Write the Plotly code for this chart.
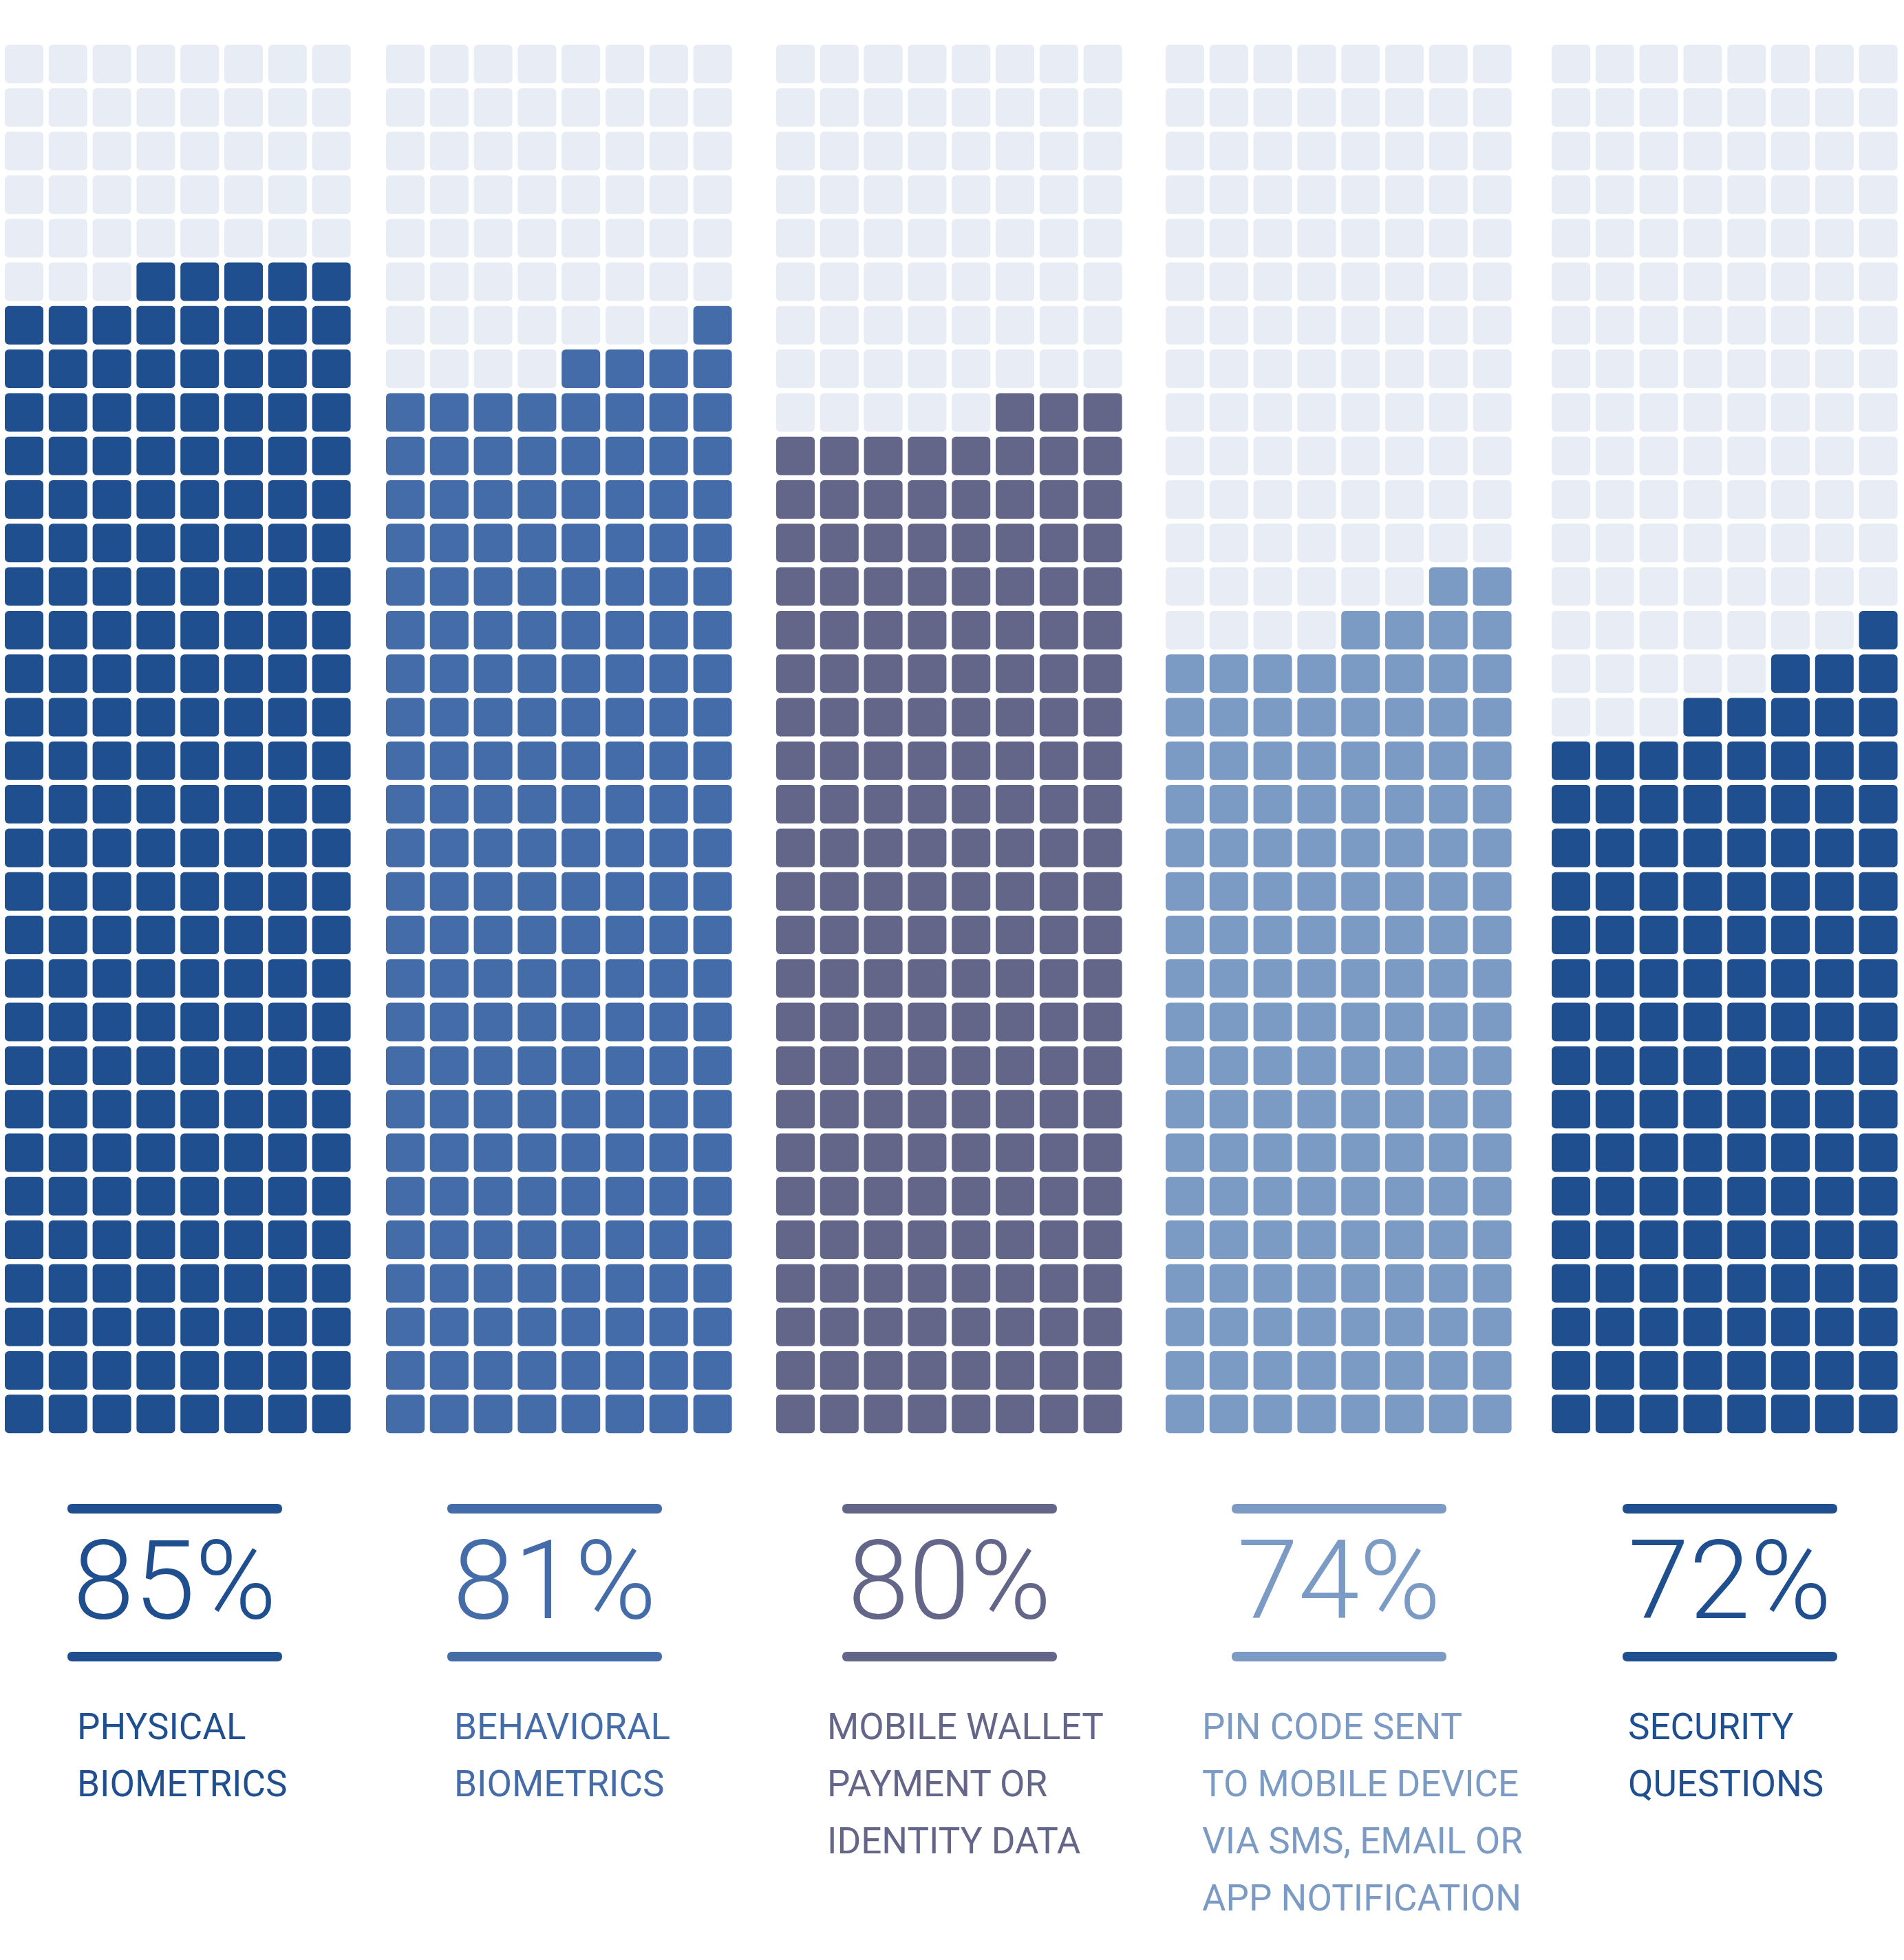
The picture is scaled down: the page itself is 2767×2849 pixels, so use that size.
import plotly.graph_objects as go

# ---------------- data ----------------
categories = [
    "PHYSICAL\nBIOMETRICS",
    "BEHAVIORAL\nBIOMETRICS",
    "MOBILE WALLET\nPAYMENT OR\nIDENTITY DATA",
    "PIN CODE SENT\nTO MOBILE DEVICE\nVIA SMS, EMAIL OR\nAPP NOTIFICATION",
    "SECURITY\nQUESTIONS",
]
percent_values = [85, 81, 80, 74, 72]
percent_labels = ["85%", "81%", "80%", "74%", "72%"]
# filled squares in each of the 8 columns of every waffle (left -> right), out of 32 rows
heights_physical = [26, 26, 26, 27, 27, 27, 27, 27]
heights_behavioral = [24, 24, 24, 24, 25, 25, 25, 26]
heights_wallet = [23, 23, 23, 23, 23, 24, 24, 24]
heights_pin = [18, 18, 18, 18, 19, 19, 20, 20]
heights_security = [16, 16, 16, 17, 17, 18, 18, 19]
column_heights = [heights_physical, heights_behavioral, heights_wallet, heights_pin, heights_security]
GRID_COLS = 8
GRID_ROWS = 32

# ---------------- style / layout ----------------
colors = ["#1f4f8f", "#436ca9", "#646689", "#7b9bc4", "#1f4f8f"]
EMPTY = "#e8ecf4"
W, H = 2767, 2849
group_x0 = [7, 561, 1128, 1694, 2255]
CELL = 56
PITCH_X = 63.8
PITCH_Y = 63.3
TOP = 65
rule_x0 = [98, 650, 1224, 1790, 2358]
RULE_LEN = 312
RULE_Y = [2193, 2408]
RULE_T = 14
PCT_Y = 2297
label_x = [110, 658, 1200, 1745, 2364]
LABEL_Y0 = 2510
LABEL_DY = 83

fig = go.Figure()

for g in range(len(categories)):
    filled = {"x": [], "y": [], "base": []}
    empty = {"x": [], "y": [], "base": []}
    for c in range(GRID_COLS):
        cx = group_x0[g] + c * PITCH_X + CELL / 2
        for r in range(GRID_ROWS):            # r = 0 is the bottom row
            row_top = GRID_ROWS - 1 - r
            bottom = TOP + row_top * PITCH_Y + CELL
            tgt = filled if r < column_heights[g][c] else empty
            tgt["x"].append(cx)
            tgt["base"].append(bottom)
            tgt["y"].append(-CELL)
    for d, col in ((empty, EMPTY), (filled, colors[g])):
        if d["x"]:
            fig.add_trace(go.Bar(
                x=d["x"], y=d["y"], base=d["base"], width=CELL,
                marker=dict(color=col, cornerradius=6, line=dict(width=0)),
                hoverinfo="skip", showlegend=False,
            ))

shapes = []
annotations = []
for g in range(len(categories)):
    col = colors[g]
    x0 = rule_x0[g]
    x1 = x0 + RULE_LEN
    rr = RULE_T / 2
    for yc in RULE_Y:
        path = (f"M {x0+rr},{yc-rr} L {x1-rr},{yc-rr} Q {x1},{yc-rr} {x1},{yc} "
                f"Q {x1},{yc+rr} {x1-rr},{yc+rr} L {x0+rr},{yc+rr} Q {x0},{yc+rr} {x0},{yc} "
                f"Q {x0},{yc-rr} {x0+rr},{yc-rr} Z")
        shapes.append(dict(type="path", path=path, xref="x", yref="y",
                           fillcolor=col, line=dict(width=0), layer="above"))
    annotations.append(dict(
        x=x0 + RULE_LEN / 2, y=PCT_Y, xref="x", yref="y", text=percent_labels[g],
        showarrow=False, xanchor="center", yanchor="middle",
        font=dict(family="Roboto", size=160, color=col, weight=300),
    ))
    for i, line in enumerate(categories[g].split("\n")):
        annotations.append(dict(
            x=label_x[g], y=LABEL_Y0 + i * LABEL_DY, xref="x", yref="y", text=line,
            showarrow=False, xanchor="left", yanchor="middle",
            font=dict(family="Roboto", size=53, color=col, weight=400),
        ))

fig.update_layout(
    width=W, height=H,
    margin=dict(l=0, r=0, t=0, b=0, pad=0),
    paper_bgcolor="white", plot_bgcolor="white",
    barmode="overlay", showlegend=False,
    xaxis=dict(range=[0, W], visible=False, fixedrange=True),
    yaxis=dict(range=[H, 0], visible=False, fixedrange=True),
    shapes=shapes, annotations=annotations,
)

fig.write_html("out.html", config={"displayModeBar": False, "staticPlot": True},
               post_script="document.body.style.margin='0';")
